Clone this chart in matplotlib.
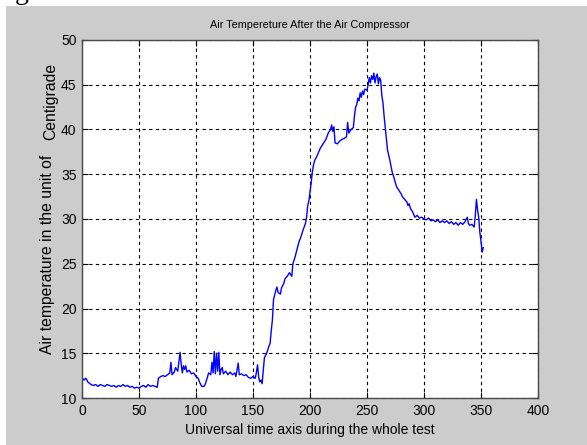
import matplotlib
matplotlib.use("Agg")
import matplotlib.pyplot as plt
from matplotlib.patches import Rectangle

#----------------------------------------------------------------------
# data
#----------------------------------------------------------------------
time = [0, 2, 3, 4, 5, 7, 8, 10, 12, 14, 16, 18, 20, 22, 24, 26, 28, 30, 32, 34,
        36, 38, 40, 42, 44, 46, 48, 50, 52, 54, 56, 58, 60, 62, 64, 66, 67, 69, 71, 73,
        75, 77, 78, 79, 81, 82, 84, 86, 87, 88, 89, 90, 91, 92, 94, 96, 98, 100, 102, 103,
        105, 107, 108, 110, 111, 113, 114, 115, 116, 117, 118, 119, 120, 121, 122, 123, 124, 126, 128, 130,
        132, 134, 135, 137, 138, 140, 142, 144, 146, 148, 150, 152, 153, 154, 155, 156, 157, 158, 159, 160,
        162, 164, 165, 166, 167, 168, 170, 171, 172, 174, 175, 177, 178, 180, 182, 184, 185, 187, 189, 190,
        192, 194, 196, 197, 198, 199, 200, 201, 202, 203, 204, 206, 208, 209, 211, 213, 214, 216, 218, 219,
        220, 221, 222, 224, 226, 228, 230, 232, 233, 234, 236, 238, 239, 240, 241, 242, 243, 244, 245, 246,
        247, 248, 250, 251, 252, 253, 254, 255, 256, 257, 258, 259, 260, 261, 262, 263, 264, 265, 266, 267,
        268, 270, 272, 273, 275, 276, 278, 280, 281, 283, 285, 286, 287, 288, 290, 292, 294, 296, 298, 300,
        302, 304, 306, 308, 310, 312, 314, 316, 318, 320, 322, 324, 326, 328, 330, 332, 334, 336, 338, 339,
        340, 342, 344, 345, 346, 347, 348, 349, 350, 351, 352]

temp = [12.2, 12.0, 12.2, 12.1, 11.8, 11.6, 11.5, 11.4, 11.5, 11.3, 11.5, 11.4, 11.3, 11.5, 11.4, 11.3, 11.4, 11.2, 11.4, 11.3,
        11.5, 11.3, 11.4, 11.2, 11.3, 11.1, 11.2, 11.1, 11.3, 11.4, 11.2, 11.5, 11.3, 11.4, 11.3, 11.2, 12.2, 12.4, 12.5, 12.4,
        12.6, 12.8, 14.0, 12.6, 12.9, 13.4, 13.0, 15.1, 13.8, 12.8, 13.6, 13.2, 13.6, 12.9, 13.1, 12.7, 12.8, 12.4, 12.2, 11.8,
        11.3, 11.3, 11.5, 12.3, 12.8, 12.6, 14.0, 12.8, 15.2, 12.7, 15.0, 13.0, 15.1, 12.6, 13.2, 13.4, 12.7, 13.0, 12.6, 12.9,
        12.6, 12.8, 12.4, 13.9, 12.6, 12.7, 12.5, 12.6, 12.3, 12.2, 12.4, 12.2, 12.9, 13.7, 12.3, 11.8, 12.0, 11.6, 13.0, 14.5,
        15.0, 15.8, 16.1, 17.5, 18.7, 21.0, 22.0, 22.4, 21.8, 21.6, 22.3, 22.8, 23.3, 23.6, 24.0, 23.6, 25.0, 25.8, 26.8, 27.3,
        28.0, 28.8, 29.5, 30.2, 31.5, 32.0, 33.0, 34.0, 35.2, 36.0, 36.5, 37.0, 37.6, 37.9, 38.3, 38.7, 38.9, 39.6, 40.0, 40.5,
        39.8, 40.3, 38.5, 38.4, 38.7, 38.9, 39.0, 39.2, 40.8, 39.6, 40.0, 40.2, 41.5, 42.5, 42.8, 43.5, 43.2, 44.1, 43.6, 44.3,
        43.9, 44.5, 44.4, 45.0, 45.8, 45.2, 46.0, 45.6, 46.3, 45.2, 45.9, 46.2, 45.1, 45.8, 45.5, 43.8, 43.0, 41.5, 40.2, 39.0,
        37.7, 36.6, 35.3, 34.9, 34.0, 33.6, 33.2, 32.8, 32.5, 32.2, 31.9, 31.5, 31.7, 31.2, 30.8, 30.2, 30.4, 30.1, 30.2, 30.0,
        29.9, 30.1, 29.8, 29.9, 29.7, 29.9, 29.6, 29.8, 29.6, 29.8, 29.5, 29.7, 29.4, 29.6, 29.3, 29.6, 29.4, 29.7, 30.2, 29.5,
        29.3, 29.4, 29.1, 30.4, 32.2, 31.0, 30.2, 28.5, 27.5, 26.3, 26.8]

xticks = [0, 50, 100, 150, 200, 250, 300, 350, 400]
yticks = [10, 15, 20, 25, 30, 35, 40, 45, 50]

#----------------------------------------------------------------------
# figure
#----------------------------------------------------------------------
plt.rcParams['font.family'] = ['Liberation Sans', 'DejaVu Sans']

W, H = 587, 445
fig = plt.figure(figsize=(W / 100, H / 100), dpi=100, facecolor='white')

# matlab grey window area (white strip on top/left)
fig.patches.append(Rectangle((6 / W, 0), 1, 1 - 6 / H, transform=fig.transFigure,
                             facecolor='#cccccc', edgecolor='none', zorder=-5))
fig.text(15 / W, 1 + 1 / H, 'g', fontsize=20, family='Liberation Serif',
         va='baseline', ha='left', color='black')

ax = fig.add_axes([82 / W, 1 - 398 / H, (538 - 82) / W, (398 - 40) / H])
ax.set_zorder(1)
ax.set_facecolor('white')
ax.plot(time, temp, color='#0000ff', linewidth=1.0)

ax.set_xlim(0, 400)
ax.set_ylim(10, 50)
ax.set_xticks(xticks)
ax.set_yticks(yticks)
ax.tick_params(direction='in', length=4, width=0.8, top=True, right=True,
               labelsize=10, colors='black', pad=4)
for s in ax.spines.values():
    s.set_color('#4a4a4a')
    s.set_linewidth(1.0)
ax.grid(True, color='black', linestyle=(0, (3, 3)), linewidth=0.8)

ax.set_title('Air Tempereture After the Air Compressor', fontsize=7.8, pad=9)
ax.set_xlabel('Universal time axis during the whole test', fontsize=10, labelpad=4)

fig.text(48 / W, 1 - 254 / H, 'Air temperature in the unit of', rotation=90,
         fontsize=11.3, ha='center', va='center')
fig.text(51 / W, 1 - 101 / H, 'Centigrade', rotation=90,
         fontsize=11.3, ha='center', va='center')

fig.savefig('out.png', dpi=100, facecolor=fig.get_facecolor())
